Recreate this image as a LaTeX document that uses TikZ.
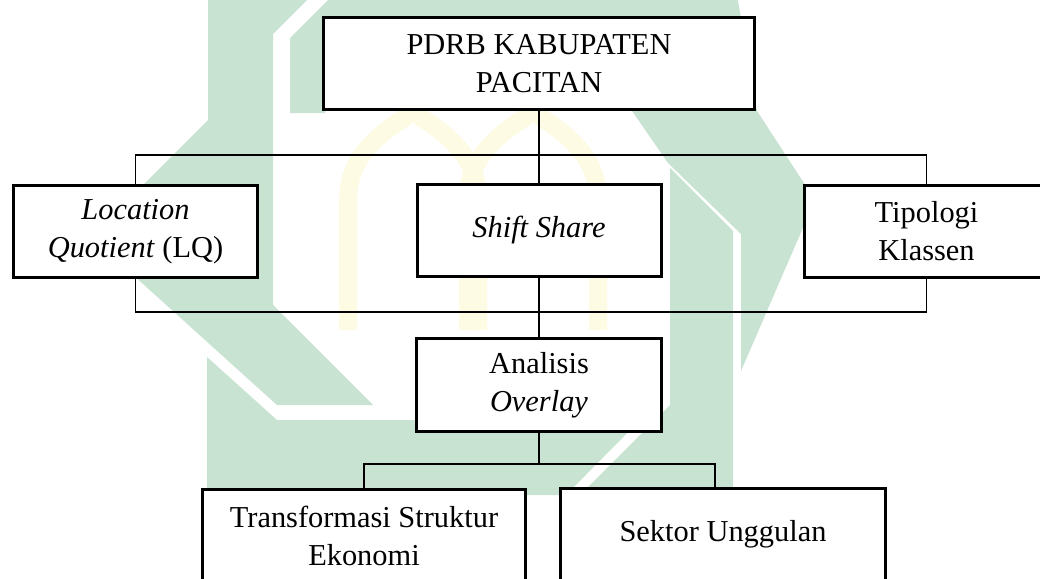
\documentclass[tikz,border=0pt]{standalone}
\usepackage{fontspec}
\setmainfont{Liberation Serif}
\usepackage{tikz}
\definecolor{logogreen}{RGB}{201,227,210}
\definecolor{logogold}{RGB}{254,251,229}
\tikzset{box/.style={draw, line width=3pt, fill=white, inner sep=0pt, align=center,
  font=\fontsize{30.4}{38}\selectfont}}
\tikzset{link/.style={line width=1.1pt}}

\begin{document}
\begin{tikzpicture}[x=1pt, y=-1pt]
    \useasboundingbox (0, 0) rectangle (1040, 578);
    \clip (0, 0) rectangle (1040, 578);
    \fill[white] (0, 0) rectangle (1040, 578);
    % logo behind the chart
    \draw[logogold, line width=18pt] (348, 330)--(348, 200) .. controls (348, 150) and (390, 128) .. (413, 112)
        .. controls (436, 128) and (478, 150) .. (478, 200)--(478, 330);
    \draw[logogold, line width=18pt] (468, 330)--(468, 200) .. controls (468, 150) and (510, 128) .. (533, 112)
        .. controls (556, 128) and (598, 150) .. (598, 200)--(598, 330);
    \fill[logogreen] (208, -5)--(312, -5)--(273, 34)--(273, 305)--(373, 405)--(277, 405)--(91, 237)--(208, 120)--cycle;
    \fill[logogreen] (207, 357)--(277, 420)--(640, 420)--(566, 495)--(207, 495)--cycle;
    \fill[logogreen] (670, 168)--(733, 231)--(733, 495)--(580, 495)--(670, 405)--cycle;
    \fill[logogreen] (290, 38)--(333, -5)--(737, -5)--(757, 111)--(815, 200)--(741, 371)--(741, 234)
        --(668, 163)--(630, 108)--(325, 108)--(325, 113)--(290, 113)--cycle;

    \node[box, minimum width=431, minimum height=92] (pdrb) at (539, 63.5) {PDRB KABUPATEN\\PACITAN};
    \node[box, minimum width=244, minimum height=92] (lq) at (135.5, 231.5) {\textit{Location}\\\textit{Quotient} (LQ)};
    \node[box, minimum width=244, minimum height=92] (ss) at (539, 230.5) {\textit{Shift Share}};
    \node[box, minimum width=244, minimum height=92] (tk) at (926.5, 231.5) {Tipologi\\Klassen};
    \node[box, minimum width=245, minimum height=93] (ao) at (539, 385) {Analisis\\\textit{Overlay}};
    \node[box, minimum width=323, minimum height=92] (ts) at (364, 535.5) {Transformasi Struktur\\Ekonomi};
    \node[box, minimum width=325, minimum height=92] (su) at (723, 534.5) {Sektor Unggulan};

    \coordinate (hub1) at (539, 155);
    \coordinate (hub2) at (539, 312);
    \coordinate (hub3) at (539, 464);
    \draw[link] (pdrb.south)--(ss.north);
    \draw[link] (lq.north) |- (hub1) -| (tk.north);
    \draw[link] (lq.south) |- (hub2) -| (tk.south);
    \draw[link] (ss.south)--(ao.north);
    \draw[link] (ao.south)--(hub3);
    \draw[link] (ts.north) |- (hub3) -| ([xshift=-8pt]su.north);
\end{tikzpicture}
\end{document}
